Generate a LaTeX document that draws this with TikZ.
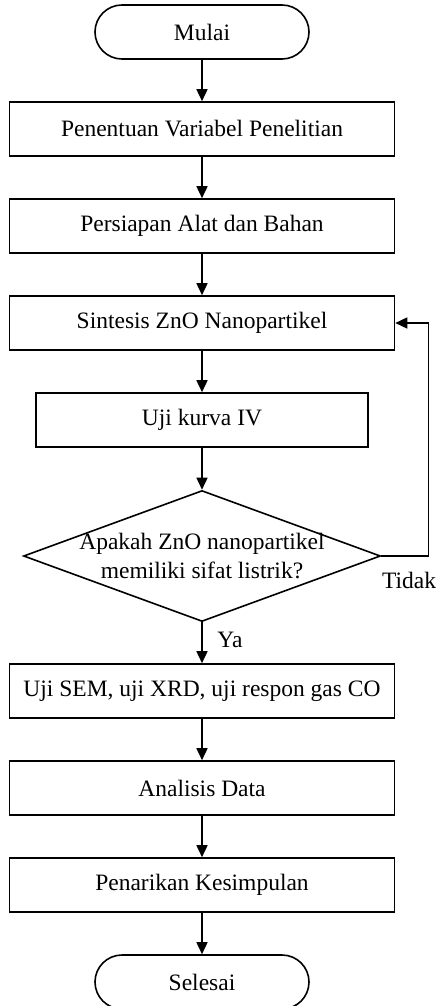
\documentclass[tikz,border=0pt]{standalone}
\usepackage{fontspec}
\setmainfont{Liberation Serif}
\usepackage{tikz}
\usetikzlibrary{positioning,shapes.geometric,arrows.meta}

\tikzset{
  proses/.style={rectangle, draw, line width=1.6pt, minimum width=385pt, minimum height=54pt, inner sep=0pt},
  terminal/.style={rectangle, rounded corners=27pt, draw, line width=1.6pt, minimum width=214pt, minimum height=54pt, inner sep=0pt},
  keputusan/.style={diamond, draw, line width=1.6pt, minimum width=357pt, minimum height=131pt, inner sep=0pt},
  panah/.style={-{Triangle[length=12pt,width=11pt]}, line width=1.6pt},
}

\begin{document}
\begin{tikzpicture}[x=1pt, y=-1pt, font=\fontsize{23.5pt}{29pt}\selectfont]

    % Rahmen
    \useasboundingbox (0,0) rectangle (439,1006);

    % Start
    \node (mulai) at (202,32) [terminal] {Mulai};

    % Proses
    \node (variabel) at (202,129) [proses] {Penentuan Variabel Penelitian};
    \node (persiapan) at (202,226) [proses] {Persiapan Alat dan Bahan};
    \node (sintesis) at (202,323) [proses] {Sintesis ZnO Nanopartikel};
    \node (kurva) at (202,420) [proses, minimum width=332pt] {Uji kurva IV};

    % Keputusan
    \node (cek) at (202,556) [keputusan] {};
    \node (tanya) at (cek) [align=center] {Apakah ZnO nanopartikel\\memiliki sifat listrik?};
    \node (tidak) at (409,580) {Tidak};
    \node (ya) at (230,640) {Ya};

    \node (uji) at (202,691) [proses] {Uji SEM, uji XRD, uji respon gas CO};
    \node (analisis) at (202,788) [proses] {Analisis Data};
    \node (kesimpulan) at (202,885) [proses] {Penarikan Kesimpulan};

    % Ende
    \node (selesai) at (202,982) [terminal] {Selesai};

    % Pfeile
    \draw[panah] (mulai) -- (variabel);
    \draw[panah] (variabel) -- (persiapan);
    \draw[panah] (persiapan) -- (sintesis);
    \draw[panah] (sintesis) -- (kurva);
    \draw[panah] (kurva) -- (cek);
    \draw[panah] (cek) -- (uji);
    \draw[panah] (uji) -- (analisis);
    \draw[panah] (analisis) -- (kesimpulan);
    \draw[panah] (kesimpulan) -- (selesai);
    \draw[panah] (cek.east) -- ++(47,0) |- (sintesis.east);
\end{tikzpicture}
\end{document}
